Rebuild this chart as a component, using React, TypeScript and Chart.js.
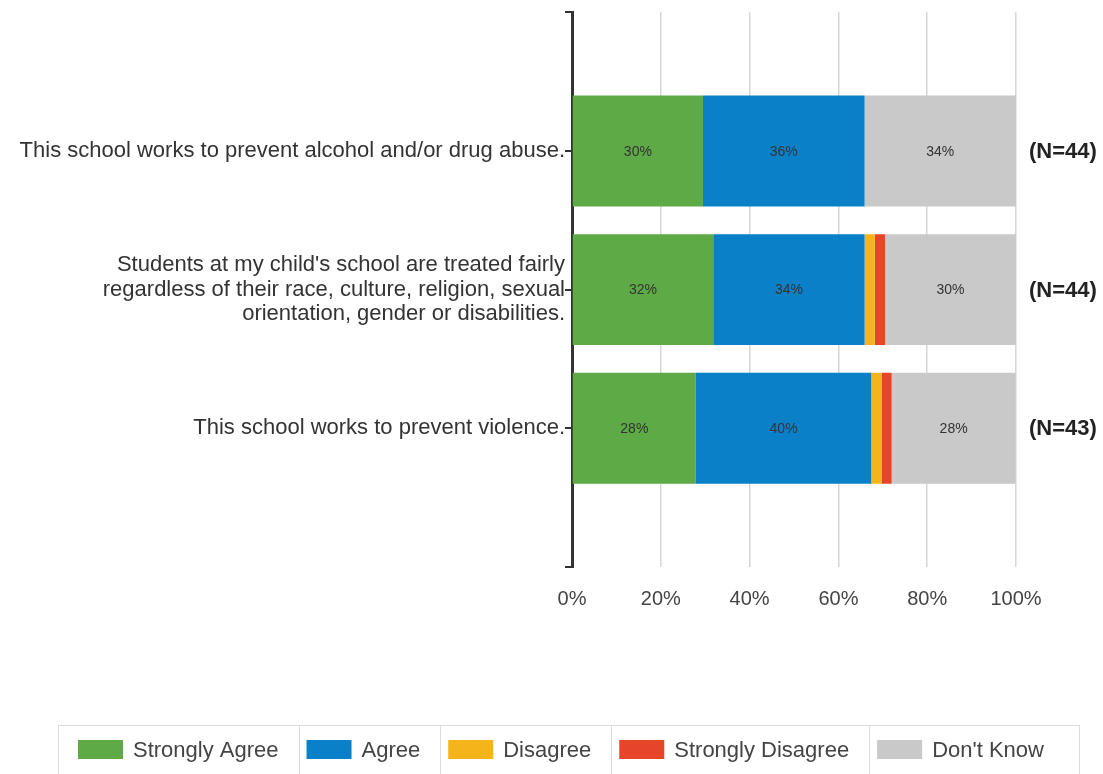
import React, { useEffect, useRef } from "react";
import { Chart, registerables } from "chart.js";

Chart.register(...registerables);

const categories: (string | string[])[] = [
  "",
  "This school works to prevent alcohol and/or drug abuse.",
  [
    "Students at my child's school are treated fairly",
    "regardless of their race, culture, religion, sexual",
    "orientation, gender or disabilities.",
  ],
  "This school works to prevent violence.",
  "",
];

const stronglyAgree = [null, 29.5, 31.8, 27.9, null];
const agree = [null, 36.4, 34.1, 39.5, null];
const disagree = [null, 0, 2.3, 2.3, null];
const stronglyDisagree = [null, 0, 2.3, 2.3, null];
const dontKnow = [null, 34.1, 29.5, 27.9, null];

const nLabels = ["", "(N=44)", "(N=44)", "(N=43)", ""];
const xTicks = [0, 20, 40, 60, 80, 100];

const seriesNames = ["Strongly Agree", "Agree", "Disagree", "Strongly Disagree", "Don't Know"];
const seriesColors = ["#5DAA46", "#0A80C8", "#F4B41A", "#E6452A", "#C9C9C9"];

const FONT = "'Liberation Sans', Arial, sans-serif";

const extrasPlugin = {
  id: "extras",
  afterDatasetsDraw(chart: any) {
    const ctx = chart.ctx;
    ctx.save();
    ctx.font = `14px ${FONT}`;
    ctx.fillStyle = "#333";
    ctx.textAlign = "center";
    ctx.textBaseline = "middle";
    chart.data.datasets.forEach((ds: any, di: number) => {
      const meta = chart.getDatasetMeta(di);
      meta.data.forEach((el: any, i: number) => {
        const v = ds.data[i];
        if (v == null || v < 5) return;
        const cx = (el.x + el.base) / 2;
        ctx.fillText(Math.round(v) + "%", cx, el.y + 1);
      });
    });
    const ys = chart.scales.y;
    ctx.font = `bold 22px ${FONT}`;
    ctx.fillStyle = "#222";
    ctx.textAlign = "left";
    nLabels.forEach((t, i) => {
      if (!t) return;
      ctx.fillText(t, chart.chartArea.right + 13, ys.getPixelForValue(i) + 1);
    });
    ctx.restore();
  },
  afterDraw(chart: any) {
    const ctx = chart.ctx;
    ctx.save();
    ctx.font = `22px ${FONT}`;
    const top = 725;
    const boxLeft = 58;
    const boxRight = 1079;
    ctx.strokeStyle = "#dcdcdc";
    ctx.lineWidth = 1;
    ctx.strokeRect(boxLeft + 0.5, top + 0.5, boxRight - boxLeft, 80);
    let x = 78;
    const sw = 45, sh = 19;
    const swY = 740;
    seriesNames.forEach((name, i) => {
      ctx.fillStyle = seriesColors[i];
      ctx.fillRect(x, swY, sw, sh);
      ctx.fillStyle = "#444";
      ctx.textAlign = "left";
      ctx.textBaseline = "middle";
      const tx = x + sw + 10;
      ctx.fillText(name, tx, swY + sh / 2 + 1);
      const tw = ctx.measureText(name).width;
      const sep = tx + tw + 20;
      if (i < seriesNames.length - 1) {
        ctx.beginPath();
        ctx.moveTo(Math.round(sep) + 0.5, top);
        ctx.lineTo(Math.round(sep) + 0.5, 774);
        ctx.stroke();
      }
      x = sep + 8;
    });
    ctx.restore();
  },
};

export default function App() {
  const ref = useRef<HTMLCanvasElement>(null);
  useEffect(() => {
    document.body.style.margin = "0";
    const canvas = ref.current!;
    const chart = new Chart(canvas, {
      type: "bar",
      data: {
        labels: categories as any,
        datasets: [stronglyAgree, agree, disagree, stronglyDisagree, dontKnow].map((d, i) => ({
          label: seriesNames[i],
          data: d as any,
          backgroundColor: seriesColors[i],
          borderWidth: 0,
          barPercentage: 1,
          categoryPercentage: 0.8,
        })),
      },
      options: {
        indexAxis: "y",
        responsive: false,
        animation: false,
        layout: { padding: { top: 8, right: 87, bottom: 0, left: 0 } },
        plugins: { legend: { display: false }, tooltip: { enabled: false } },
        scales: {
          x: {
            stacked: true,
            min: 0,
            max: 100,
            afterBuildTicks: (scale: any) => {
              scale.ticks = xTicks.map((v) => ({ value: v }));
            },
            afterFit: (scale: any) => {
              scale.height = 207;
            },
            ticks: {
              callback: (v: any) => v + "%",
              font: { family: FONT, size: 20 },
              color: "#444",
              padding: 20,
            },
            grid: {
              drawTicks: false,
              color: (c: any) => (c.tick && c.tick.value === 0 ? "rgba(0,0,0,0)" : "#d6d6d6"),
              lineWidth: 1.5,
            },
            border: { display: false },
          },
          y: {
            stacked: true,
            offset: false,
            afterFit: (scale: any) => {
              scale.width = 572;
            },
            ticks: {
              autoSkip: false,
              font: { family: FONT, size: 22, lineHeight: 1.11 },
              color: "#333",
              padding: 0,
            },
            grid: {
              offset: false,
              drawOnChartArea: false,
              drawTicks: true,
              tickLength: 7,
              color: "#333",
              lineWidth: 2,
            },
            border: { display: true, color: "#333", width: 3 },
          },
        },
      },
      plugins: [extrasPlugin],
    });
    return () => chart.destroy();
  }, []);
  return (
    <div style={{ width: 1103, height: 774, background: "#fff" }}>
      <canvas ref={ref} width={1103} height={774} />
    </div>
  );
}
